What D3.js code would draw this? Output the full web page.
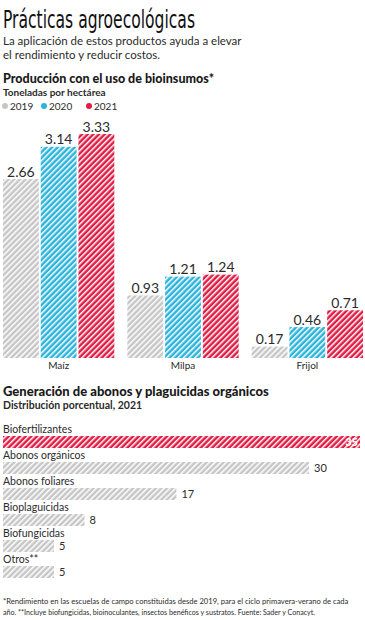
<!DOCTYPE html>
<html>
<head>
<meta charset="utf-8">
<script src="https://cdn.jsdelivr.net/npm/d3@7"></script>
<style>
  body { margin: 0; background: #fff; }
  svg { display: block; font-family: Lato, "Open Sans", sans-serif; }
</style>
</head>
<body>
<svg id="chart" width="365" height="620"></svg>
<script>
// data
const cultivos = ["Maíz", "Milpa", "Frijol"];
const years = ["2019", "2020", "2021"];
const val2019 = [2.66, 0.93, 0.17];
const val2020 = [3.14, 1.21, 0.46];
const val2021 = [3.33, 1.24, 0.71];

const insumos = ["Biofertilizantes", "Abonos orgánicos", "Abonos foliares", "Bioplaguicidas", "Biofungicidas", "Otros**"];
const porcentaje = [35, 30, 17, 8, 5, 5];

const colors = { "2019": "#c6c6c6", "2020": "#2ab4dc", "2021": "#df1c44" };
const ink = "#2b2b2b";

const svg = d3.select("#chart");
const defs = svg.append("defs");

// hatch patterns
function hatch(id, color) {
    const p = defs.append("pattern")
        .attr("id", id)
        .attr("patternUnits", "userSpaceOnUse")
        .attr("width", 4)
        .attr("height", 4)
        .attr("patternTransform", "rotate(45)");
    p.append("rect").attr("width", 4).attr("height", 4).attr("fill", color);
    p.append("rect").attr("x", 0).attr("width", 1.5).attr("height", 4).attr("fill", "#fff");
}
years.forEach(y => hatch("h" + y, colors[y]));

// header
svg.append("text")
    .attr("x", 3).attr("y", 28)
    .attr("font-family", "'Liberation Sans Narrow', 'DejaVu Sans Condensed', sans-serif")
    .attr("font-size", 24)
    .attr("textLength", 192)
    .attr("lengthAdjust", "spacingAndGlyphs")
    .attr("fill", "#111")
    .text("Prácticas agroecológicas");

svg.append("text").attr("x", 3).attr("y", 45).attr("font-size", 11.5).attr("fill", ink)
    .text("La aplicación de estos productos ayuda a elevar");
svg.append("text").attr("x", 3).attr("y", 59).attr("font-size", 11.5).attr("fill", ink)
    .text("el rendimiento y reducir costos.");

svg.append("text").attr("x", 3).attr("y", 83).attr("font-size", 12.5).attr("font-weight", 900).attr("fill", "#1a1a1a")
    .text("Producción con el uso de bioinsumos*");
svg.append("text").attr("x", 3).attr("y", 96).attr("font-size", 10).attr("font-weight", 700).attr("fill", ink)
    .text("Toneladas por hectárea");

// legend
const legend = svg.append("g").attr("transform", "translate(5,106)");
const lg = legend.selectAll("g").data(years).enter().append("g")
    .attr("transform", (d, i) => `translate(${[0, 39, 84][i]},0)`);
lg.append("circle").attr("r", 3).attr("fill", d => colors[d]);
lg.append("text").attr("x", 5).attr("y", 3.5).attr("font-size", 10).attr("fill", ink).text(d => d);

// grouped bar chart
const base = 358;
const x0 = d3.scaleBand().domain(cultivos).range([3, 363]).paddingInner(0.105).paddingOuter(0);
const x1 = d3.scaleBand().domain(years).range([0, x0.bandwidth()]).paddingInner(0.05);
const yScale = d3.scaleLinear().domain([0, 3.33]).range([base, 134]);

const series = cultivos.map((c, i) => ({
    cat: c,
    vals: [
        { year: "2019", v: val2019[i] },
        { year: "2020", v: val2020[i] },
        { year: "2021", v: val2021[i] }
    ]
}));

const groups = svg.append("g").selectAll("g").data(series).enter().append("g")
    .attr("transform", d => `translate(${x0(d.cat)},0)`);

groups.selectAll("rect").data(d => d.vals).enter().append("rect")
    .attr("x", d => x1(d.year))
    .attr("y", d => yScale(d.v))
    .attr("width", x1.bandwidth())
    .attr("height", d => base - yScale(d.v))
    .attr("fill", d => `url(#h${d.year})`);

groups.selectAll("text.val").data(d => d.vals).enter().append("text")
    .attr("class", "val")
    .attr("x", d => x1(d.year) + x1.bandwidth() / 2)
    .attr("y", d => yScale(d.v) - 2.5)
    .attr("text-anchor", "middle")
    .attr("font-size", 14)
    .attr("fill", ink)
    .text(d => d.v.toFixed(2));

const xAxis = d3.axisBottom(x0).tickSize(0).tickPadding(4);
const axG = svg.append("g").attr("transform", `translate(0,${base})`).call(xAxis);
axG.select(".domain").remove();
axG.selectAll("text").attr("font-size", 10).attr("fill", ink).attr("font-family", "Lato, sans-serif");

// second section
svg.append("text").attr("x", 3).attr("y", 396).attr("font-size", 13).attr("font-weight", 900).attr("fill", "#1a1a1a")
    .text("Generación de abonos y plaguicidas orgánicos");
svg.append("text").attr("x", 3).attr("y", 409).attr("font-size", 10.5).attr("font-weight", 700).attr("fill", ink)
    .text("Distribución porcentual, 2021");

const xh = d3.scaleLinear().domain([0, 35]).range([3, 360]);
const yh = d3.scaleBand().domain(insumos).range([424, 580]).paddingInner(0).paddingOuter(0);

const rows = svg.append("g").selectAll("g").data(insumos).enter().append("g")
    .attr("transform", d => `translate(0,${yh(d)})`);

rows.append("text")
    .attr("x", 3).attr("y", 9)
    .attr("font-size", 10.5)
    .attr("fill", ink)
    .text(d => d);

rows.append("rect")
    .attr("x", xh(0))
    .attr("y", 12)
    .attr("width", (d, i) => xh(porcentaje[i]) - xh(0))
    .attr("height", 12)
    .attr("fill", (d, i) => i === 0 ? "url(#h2021)" : "url(#h2019)");

rows.append("text")
    .attr("x", (d, i) => i === 0 ? xh(porcentaje[i]) - 2 : xh(porcentaje[i]) + 5)
    .attr("y", 22)
    .attr("text-anchor", (d, i) => i === 0 ? "end" : "start")
    .attr("font-size", 11)
    .attr("font-weight", (d, i) => i === 0 ? 900 : 400)
    .attr("fill", (d, i) => i === 0 ? "#fff" : ink)
    .text((d, i) => porcentaje[i]);

// footnote
svg.append("text").attr("x", 3).attr("y", 604).attr("font-size", 7.6).attr("fill", ink)
    .text("*Rendimiento en las escuelas de campo constituidas desde 2019, para el ciclo primavera-verano de cada");
svg.append("text").attr("x", 3).attr("y", 615).attr("font-size", 7.6)
    .attr("textLength", 312).attr("lengthAdjust", "spacingAndGlyphs").attr("fill", ink)
    .text("año. **Incluye biofungicidas, bioinoculantes, insectos benéficos y sustratos. Fuente: Sader y Conacyt.");
</script>
</body>
</html>
